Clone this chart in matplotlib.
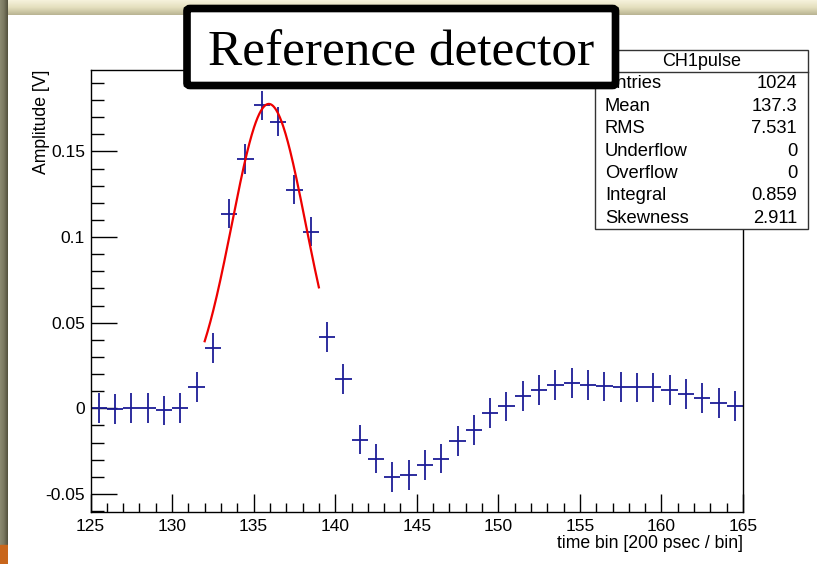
import numpy as np
import matplotlib
matplotlib.use("Agg")
import matplotlib.pyplot as plt
from matplotlib.patches import Rectangle, FancyBboxPatch
from matplotlib.ticker import MultipleLocator

plt.rcParams['font.family'] = ['Liberation Sans', 'DejaVu Sans']

# pulse histogram, 1 bin = 200 ps
bin_centers = np.arange(125.5, 165.0, 1.0)
amplitude = [
    0.0, -0.0003, 0.0, 0.0, -0.0012, 0.0003, 0.0124,
    0.0350, 0.1137, 0.1456, 0.1768, 0.1674, 0.1277, 0.1032,
    0.0416, 0.0169, -0.0182, -0.0293, -0.0401, -0.0390, -0.0333,
    -0.0293, -0.0189, -0.0125, -0.0026, 0.0011, 0.0070, 0.0105,
    0.0134, 0.0150, 0.0138, 0.0128, 0.0126, 0.0122, 0.0122,
    0.0109, 0.0083, 0.0062, 0.0033, 0.0013,
]
amp_err = 0.0087

# gaus fit over the leading edge
fit_const = 0.1777
fit_mean = 135.93
fit_sigma = 2.26
fit_range = (132.0, 139.0)

stats_title = "CH1pulse"
stats_names = ["Entries", "Mean", "RMS", "Underflow", "Overflow", "Integral", "Skewness"]
stats_values = ["1024", "137.3", "7.531", "0", "0", "0.859", "2.911"]

W, H = 817, 564
fig = plt.figure(figsize=(W / 100, H / 100), dpi=100)
fig.patch.set_facecolor('white')


def fx(px):
    return px / W


def fy(py):
    return 1 - py / H


# slide decoration around the canvas
top = fig.add_axes([0, fy(15), 1, 15 / H])
grad = np.linspace(0, 1, 30).reshape(-1, 1)
top.imshow(grad, aspect='auto', extent=[0, 1, 0, 1],
           cmap=matplotlib.colors.LinearSegmentedColormap.from_list(
               'band', ['#f6f2dc', '#e4dfbd', '#b9b493']))
top.set_axis_off()

left = fig.add_axes([0, 0, 8 / W, 1])
left.imshow(np.linspace(0, 1, 10).reshape(1, -1), aspect='auto', extent=[0, 1, 0, 1],
            cmap=matplotlib.colors.LinearSegmentedColormap.from_list(
                'edge', ['#8a8970', '#7a7860', '#55533f']))
left.add_patch(Rectangle((0, 0), 1, 19 / H, color='#c8661c'))
left.set_xlim(0, 1)
left.set_ylim(0, 1)
left.set_axis_off()

ax = fig.add_axes([fx(90.5), fy(512), fx(743) - fx(90.5), fy(70) - fy(512)])

ax.errorbar(bin_centers, amplitude, yerr=amp_err, xerr=0.5, fmt='none',
            ecolor='#1c1c96', elinewidth=1.3, capsize=0)

xf = np.linspace(fit_range[0], fit_range[1], 200)
yf = fit_const * np.exp(-0.5 * ((xf - fit_mean) / fit_sigma) ** 2)
ax.plot(xf, yf, color='#ee0000', lw=1.6)

ax.set_xlim(125, 165)
ax.set_ylim(-0.0605, 0.1975)
ax.xaxis.set_major_locator(MultipleLocator(5))
ax.xaxis.set_minor_locator(MultipleLocator(1))
ax.yaxis.set_major_locator(MultipleLocator(0.05))
ax.yaxis.set_minor_locator(MultipleLocator(0.01))
ax.set_yticks([-0.05, 0, 0.05, 0.1, 0.15])
ax.set_yticklabels(['-0.05', '0', '0.05', '0.1', '0.15'])
ax.tick_params(axis='x', which='major', direction='in', length=13, width=1, pad=5, labelsize=12.5)
ax.tick_params(axis='x', which='minor', direction='in', length=6.5, width=1)
ax.tick_params(axis='y', which='major', direction='in', length=19, width=1, pad=4, labelsize=12.5)
ax.tick_params(axis='y', which='minor', direction='in', length=9, width=1)
for s in ax.spines.values():
    s.set_linewidth(1.0)

fig.text(fx(743), fy(544), "time bin [200 psec / bin]", ha='right', va='center', fontsize=12.7)
fig.text(fx(42), fy(70), "Amplitude [V]", ha='center', va='top', rotation=90, fontsize=12.7)

# stats box
sx0, sx1, sy0, sy1, sy_title = 595, 808, 50, 229, 72
fig.add_artist(Rectangle((fx(sx0), fy(sy1)), fx(sx1) - fx(sx0), fy(sy0) - fy(sy1),
                         transform=fig.transFigure, facecolor='white',
                         edgecolor='#333333', lw=1.0, zorder=5))
fig.add_artist(plt.Line2D([fx(sx0), fx(sx1)], [fy(sy_title), fy(sy_title)],
                          transform=fig.transFigure, color='#333333', lw=1.0, zorder=6))
fig.text(fx((sx0 + sx1) / 2), fy(61), stats_title, ha='center', va='center',
         fontsize=13, zorder=7)
for i, (name, val) in enumerate(zip(stats_names, stats_values)):
    yy = fy(84 + i * 22.4)
    fig.text(fx(605), yy, name, ha='left', va='center', fontsize=13.2, zorder=7)
    fig.text(fx(797), yy, val, ha='right', va='center', fontsize=13.2, zorder=7)

# slide title box
fig.add_artist(FancyBboxPatch((fx(187), fy(85.5)), fx(615.5) - fx(187), fy(8.5) - fy(85.5),
                              boxstyle='round,pad=0,rounding_size=0.004',
                              transform=fig.transFigure, facecolor='white',
                              edgecolor='black', lw=5.5, zorder=10))
fig.text(fx(401), fy(65), "Reference detector", ha='center', va='baseline',
         fontsize=37, family=['Liberation Serif', 'DejaVu Serif'], zorder=11)

fig.savefig('out.png', dpi=100)
